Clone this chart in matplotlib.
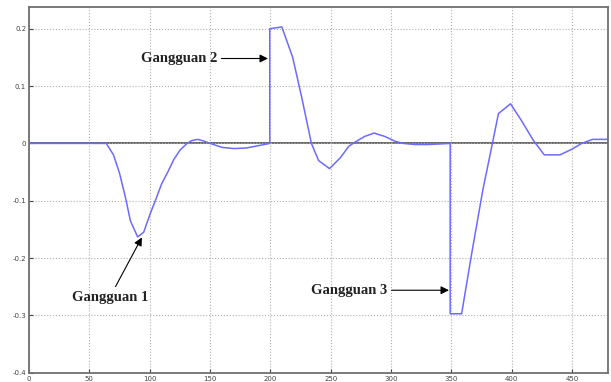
import matplotlib
matplotlib.use("Agg")
from matplotlib import pyplot as plt

# time samples and signal
t = [0, 64, 70, 75, 80, 84, 90, 95, 100, 105, 110, 115, 120, 125, 131, 135, 140,
     145, 150, 160, 170, 180, 190, 199.5,
     199.5, 209.5, 218.5, 226, 234, 240, 249, 258, 265, 270, 278, 286, 295, 303,
     310, 320, 330, 340, 349,
     349, 358.5, 367, 376, 384, 389, 399, 408, 418, 427, 440, 450, 458, 467, 480]
sig = [0, 0, -0.02, -0.052, -0.095, -0.135, -0.163, -0.155, -0.125, -0.098, -0.07,
       -0.05, -0.028, -0.012, 0.0, 0.005, 0.007, 0.004, 0.0, -0.007, -0.009, -0.008,
       -0.004, 0.0,
       0.2, 0.203, 0.15, 0.08, 0.0, -0.03, -0.044, -0.025, -0.005, 0.002, 0.012,
       0.018, 0.012, 0.004, 0.0, -0.002, -0.002, -0.001, 0.0,
       -0.297, -0.297, -0.19, -0.082, 0.0, 0.052, 0.069, 0.04, 0.005, -0.02, -0.02,
       -0.01, 0.0, 0.007, 0.007]

xticks = [0, 50, 100, 150, 200, 250, 300, 350, 400, 450]
yticks = [-0.4, -0.3, -0.2, -0.1, 0, 0.1, 0.2]
ylabels = ['-0.4', '-0.3', '-0.2', '-0.1', '0', '0.1', '0.2']

fig = plt.figure(figsize=(6.11, 3.82), dpi=100)
ax = fig.add_axes([0.0475, 0.024, 0.948, 0.958])

ax.plot(t, sig, color="#6b6bff", lw=1.1)
ax.axhline(0, color="#505050", lw=1.2, zorder=1)

ax.set_xlim(0, 480)
ax.set_ylim(-0.4, 0.238)
ax.set_xticks(xticks)
ax.set_yticks(yticks)
ax.set_yticklabels(ylabels)
ax.tick_params(direction='in', length=3, labelsize=5, pad=2, colors='#444444')
ax.grid(True, linestyle=':', color='#b0b0b0', lw=0.8)
for s in ax.spines.values():
    s.set_color('#707070')
    s.set_linewidth(1.3)

txt = dict(family='Liberation Serif', fontsize=10.5, fontweight='bold', color='#222222')
arr = dict(arrowstyle='-|>', color='black', lw=0.8, mutation_scale=12, shrinkA=1, shrinkB=0)

ax.annotate('Gangguan 1', xy=(93.5, -0.164), xytext=(67, -0.268),
            ha='center', va='center', arrowprops=arr, **txt)
ax.annotate('Gangguan 2', xy=(198, 0.148), xytext=(156, 0.148),
            ha='right', va='center', arrowprops=arr, **txt)
ax.annotate('Gangguan 3', xy=(348, -0.256), xytext=(297, -0.256),
            ha='right', va='center', arrowprops=arr, **txt)

fig.savefig("out.png", dpi=100)
